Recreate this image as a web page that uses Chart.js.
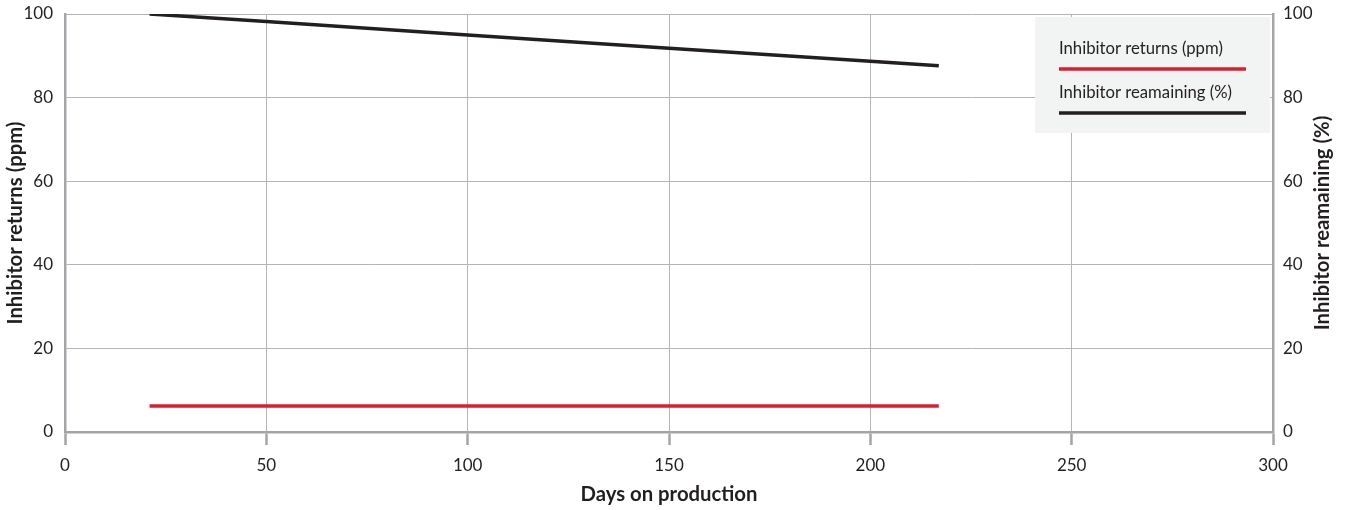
<!DOCTYPE html>
<html>
<head>
<meta charset="utf-8">
<script src="https://cdn.jsdelivr.net/npm/chart.js@4/dist/chart.umd.min.js"></script>
<style>
  html, body { margin: 0; padding: 0; background: #fff; }
  #wrap { width: 1346px; height: 510px; position: relative; }
</style>
</head>
<body>
<div id="wrap"><canvas id="inhibitorChart" width="1346" height="510"></canvas></div>
<script>
// values
const returnsDays = [21, 217];
const returnsPpm = [6.2, 6.2];

const remainingDays = [21, 50, 100, 150, 200, 217];
const remainingPct = [100, 98.2, 95.0, 91.8, 88.7, 87.6];

const xTicks = [0, 50, 100, 150, 200, 250, 300];
const yTicks = [0, 20, 40, 60, 80, 100];

const legendItems = ['Inhibitor returns (ppm)', 'Inhibitor reamaining (%)'];
const xTitle = 'Days on production';
const yTitle = 'Inhibitor returns (ppm)';
const y1Title = 'Inhibitor reamaining (%)';

const RED = '#d91f2b';
const BLACK = '#231f20';
const GRID = '#b5b5b8';
const AXIS = '#a5a5a9';
const FONT = 'Lato, "Open Sans", sans-serif';

function toPoints(xs, ys) {
    return xs.map(function (x, i) { return { x: x, y: ys[i] }; });
}

// pick a font size so a text comes out about as wide as in the reference
const measureCtx = document.createElement('canvas').getContext('2d');
function fitSize(text, weight, target) {
    measureCtx.font = weight + ' 20px ' + FONT;
    return 20 * target / measureCtx.measureText(text).width;
}
const titleSize = fitSize(xTitle, 'bold', 177);
const legendSize = fitSize(legendItems[0], 'normal', 164);

function noPad(scale) {
    scale.paddingTop = 0;
    scale.paddingBottom = 0;
    scale.paddingLeft = 0;
    scale.paddingRight = 0;
}

// legend box in the top right of the plot, plus the right axis title read bottom to top
const extras = {
    id: 'extras',
    afterDraw: function (chart) {
        const ctx = chart.ctx;
        const area = chart.chartArea;
        const left = area.right - 238;
        const top = area.top + 3;
        ctx.save();
        ctx.fillStyle = '#f2f3f3';
        ctx.fillRect(left, top, 235, 116);
        ctx.font = legendSize + 'px ' + FONT;
        ctx.textBaseline = 'middle';
        ctx.textAlign = 'left';
        const colors = [RED, BLACK];
        legendItems.forEach(function (label, i) {
            const y = top + 32 + i * 44;
            ctx.fillStyle = BLACK;
            ctx.fillText(label, left + 24, y);
            ctx.strokeStyle = colors[i];
            ctx.lineWidth = 3.5;
            ctx.beginPath();
            ctx.moveTo(left + 24, y + 20);
            ctx.lineTo(left + 211, y + 20);
            ctx.stroke();
        });

        ctx.translate(chart.width - 24, (area.top + area.bottom) / 2);
        ctx.rotate(-Math.PI / 2);
        ctx.font = 'bold ' + titleSize + 'px ' + FONT;
        ctx.textAlign = 'center';
        ctx.fillStyle = BLACK;
        ctx.fillText(y1Title, 0, 0);
        ctx.restore();
    }
};

const ctx = document.getElementById('inhibitorChart').getContext('2d');
const chart = new Chart(ctx, {
    type: 'line',
    data: {
        datasets: [{
            label: legendItems[0],
            data: toPoints(returnsDays, returnsPpm),
            borderColor: RED,
            borderWidth: 3.5,
            pointRadius: 0,
            yAxisID: 'y'
        }, {
            label: legendItems[1],
            data: toPoints(remainingDays, remainingPct),
            borderColor: BLACK,
            borderWidth: 3.5,
            pointRadius: 0,
            yAxisID: 'y1'
        }]
    },
    options: {
        responsive: false,
        animation: false,
        devicePixelRatio: 1,
        layout: { padding: { top: 14, left: 0, right: 0, bottom: 0 } },
        plugins: {
            legend: { display: false },
            tooltip: { enabled: false }
        },
        scales: {
            x: {
                type: 'linear',
                min: 0,
                max: 300,
                afterBuildTicks: function (scale) {
                    scale.ticks = xTicks.map(function (v) { return { value: v }; });
                },
                afterFit: function (scale) { scale.height = 78; noPad(scale); },
                grid: {
                    color: GRID,
                    lineWidth: 1,
                    tickColor: AXIS,
                    tickWidth: 2.5,
                    tickLength: 13
                },
                border: { color: AXIS, width: 2.5 },
                ticks: {
                    color: BLACK,
                    padding: 10,
                    font: { family: FONT, size: 17 }
                },
                title: {
                    display: true,
                    text: xTitle,
                    color: BLACK,
                    padding: { top: 0, bottom: 3 },
                    font: { family: FONT, size: titleSize, weight: 'bold' }
                }
            },
            y: {
                position: 'left',
                min: 0,
                max: 100,
                afterBuildTicks: function (scale) {
                    scale.ticks = yTicks.map(function (v) { return { value: v }; });
                },
                afterFit: function (scale) { scale.width = 65; noPad(scale); },
                grid: { color: GRID, lineWidth: 1, drawTicks: false },
                border: { color: AXIS, width: 2.5 },
                ticks: {
                    color: BLACK,
                    padding: 12,
                    font: { family: FONT, size: 17 }
                },
                title: {
                    display: true,
                    text: yTitle,
                    color: BLACK,
                    padding: { top: 3, bottom: 0 },
                    font: { family: FONT, size: titleSize, weight: 'bold' }
                }
            },
            y1: {
                position: 'right',
                min: 0,
                max: 100,
                afterBuildTicks: function (scale) {
                    scale.ticks = yTicks.map(function (v) { return { value: v }; });
                },
                afterFit: function (scale) { scale.width = 73; noPad(scale); },
                grid: { drawOnChartArea: false, drawTicks: false },
                border: { color: AXIS, width: 2.5 },
                ticks: {
                    color: BLACK,
                    padding: 10,
                    font: { family: FONT, size: 17 }
                }
            }
        }
    },
    plugins: [extras]
});
</script>
</body>
</html>
